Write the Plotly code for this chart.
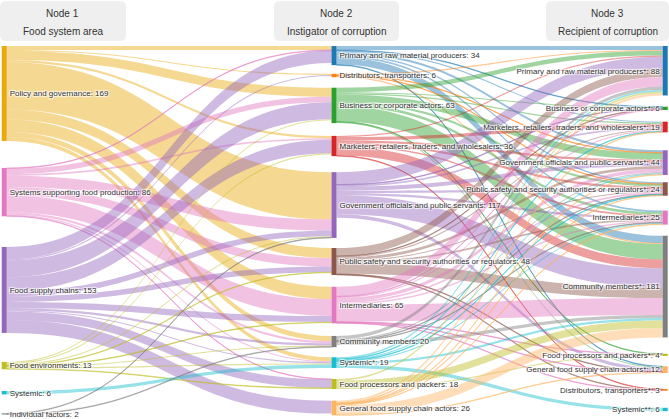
import plotly.graph_objects as go

# ---------------- data ----------------
area_labels = ["Policy and governance", "Systems supporting food production", "Food supply chains",
               "Food environments", "Systemic", "Individual factors"]
area_values = [169, 86, 153, 13, 6, 2]

instigator_labels = ["Primary and raw material producers", "Distributors, transporters",
                     "Business or corporate actors", "Marketers, retailers, traders, and wholesalers",
                     "Government officials and public servants",
                     "Public safety and security authorities or regulators", "Intermediaries",
                     "Community members", "Systemic*", "Food processors and packers",
                     "General food supply chain actors"]
instigator_values = [34, 6, 63, 36, 117, 48, 65, 20, 19, 18, 26]

recipient_labels = ["Primary and raw material producers*", "Business or corporate actors*",
                    "Marketers, retailers, traders, and wholesalers*",
                    "Government officials and public servants*",
                    "Public safety and security authorities or regulators*", "Intermediaries*",
                    "Community members*", "Food processors and packers*",
                    "General food supply chain actors*", "Distributors, transporters*", "Systemic**"]
recipient_values = [88, 6, 19, 44, 24, 25, 181, 4, 12, 3, 6]

# flows: food system area -> instigator (rows: areas, cols: instigators)
area_to_instigator = [
    [7, 2, 16, 4, 84, 18, 22, 9, 7, 0, 0],
    [1, 0, 10, 3, 20, 15, 30, 4, 2, 1, 0],
    [22, 2, 30, 24, 10, 10, 11, 4, 2, 15, 23],
    [0, 0, 2, 2, 2, 1, 1, 2, 2, 1, 0],
    [0, 0, 0, 0, 0, 0, 0, 0, 6, 0, 0],
    [0, 0, 0, 0, 1, 0, 0, 1, 0, 0, 0],
]
# flows: instigator -> recipient (rows: instigators, cols: recipients)
instigator_to_recipient = [
    [7, 1, 2, 4, 3, 3, 13, 0, 1, 0, 0],
    [2, 0, 0, 1, 1, 0, 2, 0, 0, 0, 0],
    [8, 2, 2, 12, 4, 5, 27, 1, 2, 0, 0],
    [2, 0, 6, 4, 4, 3, 16, 0, 0, 1, 0],
    [22, 1, 3, 7, 4, 4, 34, 0, 6, 0, 0],
    [14, 1, 2, 5, 2, 3, 19, 0, 1, 1, 0],
    [17, 1, 2, 6, 3, 3, 30, 1, 1, 1, 0],
    [6, 0, 0, 2, 1, 1, 6, 0, 0, 0, 0],
    [3, 0, 1, 2, 1, 2, 4, 0, 0, 0, 6],
    [3, 0, 0, 0, 0, 0, 13, 2, 0, 0, 0],
    [4, 0, 1, 1, 1, 1, 17, 0, 1, 0, 0],
]

headers = [("Node 1", "Food system area"), ("Node 2", "Instigator of corruption"),
           ("Node 3", "Recipient of corruption")]

# ---------------- styles / layout ----------------
area_colors = ["#E8A90C", "#E377C2", "#9467BD", "#BCBD22", "#17BECF", "#7F7F7F"]
instigator_colors = ["#1F77B4", "#FF7F0E", "#2CA02C", "#D62728", "#9467BD", "#8C564B",
                     "#E377C2", "#7F7F7F", "#17BECF", "#BCBD22", "#FDB462"]
recipient_colors = ["#1F77B4", "#2CA02C", "#D62728", "#9467BD", "#8C564B", "#E377C2",
                    "#7F7F7F", "#BCBD22", "#FDB462", "#FF7F0E", "#17BECF"]

area_y = [0.1287, 0.396, 0.661, 0.866, 0.9396, 0.997]
instigator_y = [0.026, 0.080, 0.161, 0.271, 0.431, 0.584, 0.702, 0.801, 0.858, 0.916, 0.981]
recipient_y = [0.067, 0.169, 0.2195, 0.316, 0.3875, 0.465, 0.652, 0.837, 0.877, 0.932, 0.985]
col_x = [0.0063, 0.4993, 0.9943]

W, H = 669, 419
ML, MR, MT, MB = 0, 0, 46, 4
PW, PH = W - ML - MR, H - MT - MB


def rgba(hexc, a):
    h = hexc.lstrip("#")
    r, g, b = int(h[0:2], 16), int(h[2:4], 16), int(h[4:6], 16)
    return f"rgba({r},{g},{b},{a})"


labels = ([f"{l}: {v}" for l, v in zip(area_labels, area_values)]
          + [f"{l}: {v}" for l, v in zip(instigator_labels, instigator_values)]
          + [f"{l}: {v}" for l, v in zip(recipient_labels, recipient_values)])
node_colors = area_colors + instigator_colors + recipient_colors
node_x = ([col_x[0]] * len(area_labels) + [col_x[1]] * len(instigator_labels)
          + [col_x[2]] * len(recipient_labels))
node_y = area_y + instigator_y + recipient_y

n1, n2 = len(area_labels), len(instigator_labels)
src, tgt, val, lcol = [], [], [], []
for i, row in enumerate(area_to_instigator):
    for j, v in enumerate(row):
        if v > 0:
            src.append(i); tgt.append(n1 + j); val.append(v)
            lcol.append(rgba(area_colors[i], 0.45))
for i, row in enumerate(instigator_to_recipient):
    for j, v in enumerate(row):
        if v > 0:
            src.append(n1 + i); tgt.append(n1 + n2 + j); val.append(v)
            lcol.append(rgba(instigator_colors[i], 0.45))

fig = go.Figure(go.Sankey(
    arrangement="fixed",
    node=dict(label=labels, color=node_colors, x=node_x, y=node_y,
              pad=11.5, thickness=5, line=dict(width=0)),
    link=dict(source=src, target=tgt, value=val, color=lcol),
    textfont=dict(family="Liberation Sans, Arial, sans-serif", size=8, color="#333"),
    hoverinfo="none",
))

# header boxes (pixel coords -> paper coords)
def px2paper(x, y):
    return (x - ML) / PW, 1 - (y - MT) / PH

boxes = [(0, 126), (274, 399), (546, 669)]
shapes, annotations = [], []
for (x0, x1), (t1, t2) in zip(boxes, headers):
    y0, y1, r = 1, 41, 6
    def P(x, y):
        a, b = px2paper(x, y)
        return f"{a:.5f},{b:.5f}"
    path = (f"M {P(x0 + r, y0)} L {P(x1 - r, y0)} Q {P(x1, y0)} {P(x1, y0 + r)} "
            f"L {P(x1, y1 - r)} Q {P(x1, y1)} {P(x1 - r, y1)} L {P(x0 + r, y1)} "
            f"Q {P(x0, y1)} {P(x0, y1 - r)} L {P(x0, y0 + r)} Q {P(x0, y0)} {P(x0 + r, y0)} Z")
    shapes.append(dict(type="path", xref="paper", yref="paper", path=path,
                       fillcolor="#EFEFEF", line=dict(width=0), layer="below"))
    cx = (x0 + x1) / 2
    for txt, ty in ((t1, 13), (t2, 31)):
        ax, ay = px2paper(cx, ty)
        annotations.append(dict(x=ax, y=ay, xref="paper", yref="paper", text=txt,
                                showarrow=False, xanchor="center", yanchor="middle",
                                font=dict(family="Liberation Sans, Arial, sans-serif",
                                          size=10, color="#333")))

fig.update_layout(width=W, height=H, margin=dict(l=ML, r=MR, t=MT, b=MB),
                  paper_bgcolor="white", plot_bgcolor="white",
                  shapes=shapes, annotations=annotations)

fig.write_html("out.html", config={"displayModeBar": False},
               post_script="document.body.style.margin='0';")
